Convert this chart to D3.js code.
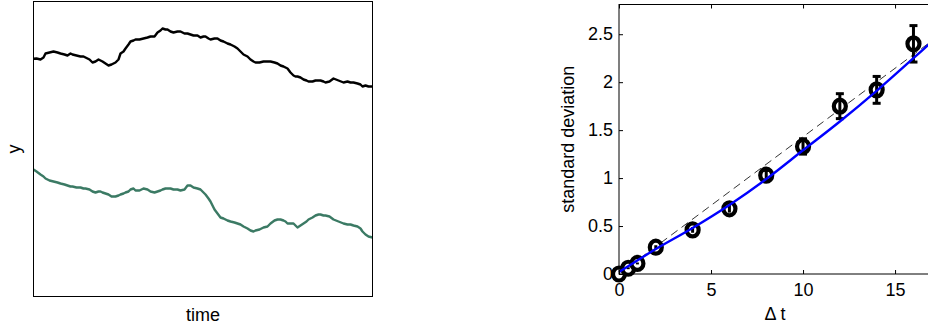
<!DOCTYPE html>
<html>
<head>
<meta charset="utf-8">
<script src="https://cdn.jsdelivr.net/npm/d3@7"></script>
<style>
  body { margin: 0; background: #fff; }
  text { font-family: "Liberation Sans", Arial, sans-serif; }
</style>
</head>
<body>
<div id="chart"></div>
<script>
// left panel: two walks sampled at the same time steps
const walkTime = [0, 3, 7, 10, 12, 16, 20, 24, 27, 31, 34, 37, 39, 43, 47, 50, 52, 56, 59, 62, 65, 67, 69, 72, 75, 78, 82, 85, 87, 90, 92, 95, 97, 100, 102, 106, 110, 114, 117, 121, 124, 127, 129, 132, 134, 137, 140, 144, 147, 151, 154, 157, 160, 164, 167, 170, 172, 175, 177, 181, 184, 187, 190, 194, 197, 201, 204, 207, 210, 214, 217, 220, 222, 226, 230, 234, 237, 241, 244, 247, 250, 252, 254, 257, 260, 262, 264, 267, 270, 273, 275, 279, 282, 285, 287, 290, 292, 296, 300, 305, 310, 314, 317, 320, 324, 327, 329, 332, 335, 339];
const walkBlack = [237.7, 238, 237, 239, 243, 244, 245, 244, 243, 242, 241, 243, 242, 241, 240, 240, 239, 237, 234, 235, 237, 236, 235, 233, 231, 232, 234, 237, 243, 245, 248, 252, 255, 256, 257, 257, 258, 259, 260, 260, 264, 266, 268, 267, 267, 265, 264, 265, 265, 263, 263, 262, 261, 261, 259, 260, 260, 258, 257, 258, 258, 256, 255, 253, 252, 250, 248, 245, 242, 240, 237, 235, 234, 234, 235, 235, 235, 234, 233, 231, 230, 229, 228, 224, 221, 220, 220, 219, 217, 216, 215, 215, 216, 216, 216, 215, 214, 215, 218, 216, 214, 215, 214, 214, 213, 212, 210, 211, 210, 210];
const walkGreen = [127, 125, 122, 120, 118, 116, 115, 114, 113, 112, 111, 110, 110, 109, 109, 108, 108, 107, 105, 104, 105, 105, 104, 103, 102, 100, 100, 101, 102, 103, 104, 105, 107, 108, 106, 106, 108, 107, 105, 104, 105, 106, 107, 108, 108, 108, 107, 107, 106, 107, 111, 111, 109, 108, 107, 104, 102, 98, 95, 87, 83, 79, 78, 76, 75, 74, 73, 72, 70, 68, 66, 65, 66, 67, 69, 70, 73, 76, 77, 77, 76, 75, 73, 73, 73, 71, 69, 71, 73, 75, 77, 79, 81, 82, 82, 81, 81, 80, 77, 75, 73, 72, 72, 71, 70, 68, 65, 62, 60, 59];

// right panel: standard deviation vs lag
const lags = [0, 0.5, 1, 2, 4, 6, 8, 10, 12, 14, 16];
const stdDev = [0, 0.06, 0.11, 0.28, 0.46, 0.68, 1.03, 1.33, 1.75, 1.92, 2.40];
const stdErr = [0, 0.01, 0.01, 0.02, 0.03, 0.04, 0.05, 0.08, 0.13, 0.14, 0.19];
const fitLag = [0, 2, 4, 6, 8, 10, 12, 14, 16, 18, 20];
const fitStd = [0.02, 0.26, 0.48, 0.72, 0.99, 1.29, 1.59, 1.91, 2.25, 2.60, 2.96];
const refLag = [0, 20];
const refStd = [0, 2.86];
const yTicks = [0, 0.5, 1, 1.5, 2, 2.5];
const xTicks = [0, 5, 10, 15];

const W = 928, H = 333;
const FS = 18;
const svg = d3.select("#chart").append("svg")
    .attr("width", W).attr("height", H);

// ---------- left panel ----------
const L = {left: 33.5, top: 1.5, right: 372.5, bottom: 296.5};
const xL = d3.scaleLinear().domain([0, 339]).range([L.left, L.right]);
const yL = d3.scaleLinear().domain([0, 295]).range([L.bottom, L.top]);

const lineL = (vals) => d3.line()
    .x((d, i) => xL(walkTime[i]))
    .y(d => yL(d))(vals);

svg.append("path").attr("d", lineL(walkBlack))
    .attr("fill", "none").attr("stroke", "#000").attr("stroke-width", 2.4)
    .attr("stroke-linejoin", "round");
svg.append("path").attr("d", lineL(walkGreen))
    .attr("fill", "none").attr("stroke", "#3b7a64").attr("stroke-width", 2.4)
    .attr("stroke-linejoin", "round");

svg.append("rect")
    .attr("x", L.left).attr("y", L.top)
    .attr("width", L.right - L.left).attr("height", L.bottom - L.top)
    .attr("fill", "none").attr("stroke", "#000").attr("stroke-width", 1);

svg.append("text").attr("x", (L.left + L.right) / 2).attr("y", 321)
    .attr("text-anchor", "middle").attr("font-size", FS).text("time");
svg.append("text")
    .attr("transform", "translate(20," + ((L.top + L.bottom) / 2) + ") rotate(-90)")
    .attr("text-anchor", "middle").attr("font-size", FS).text("y");

// ---------- right panel ----------
const R = {left: 619, top: 4.5, right: 958, bottom: 274};
const x = d3.scaleLinear().domain([0, 18.42]).range([R.left, R.right]);
const y = d3.scaleLinear().domain([0, 2.81]).range([R.bottom, R.top]);

const g = svg.append("g");

// dashed reference
g.append("path")
    .attr("d", d3.line().x((d, i) => x(refLag[i])).y((d, i) => y(refStd[i]))(refLag))
    .attr("fill", "none").attr("stroke", "#000").attr("stroke-width", 0.8)
    .attr("stroke-dasharray", "8,5");

// markers
g.selectAll("ellipse.pt").data(lags).enter().append("ellipse")
    .attr("class", "pt")
    .attr("cx", d => x(d))
    .attr("cy", (d, i) => y(stdDev[i]))
    .attr("rx", 6).attr("ry", 6.5)
    .attr("fill", "#fff").attr("stroke", "#000").attr("stroke-width", 4.2);

// error bars, drawn over the markers
lags.forEach((t, i) => {
  if (stdErr[i] <= 0) return;
  const cx = x(t);
  g.append("line").attr("x1", cx).attr("x2", cx)
      .attr("y1", y(stdDev[i] - stdErr[i])).attr("y2", y(stdDev[i] + stdErr[i]))
      .attr("stroke", "#000").attr("stroke-width", 3);
  if (stdErr[i] < 0.05) return;
  [stdDev[i] - stdErr[i], stdDev[i] + stdErr[i]].forEach(v => {
    g.append("line").attr("x1", cx - 4).attr("x2", cx + 4)
        .attr("y1", y(v)).attr("y2", y(v))
        .attr("stroke", "#000").attr("stroke-width", 3);
  });
});

// fitted curve
g.append("path")
    .attr("d", d3.line().curve(d3.curveMonotoneX)
        .x((d, i) => x(fitLag[i])).y(d => y(d))(fitStd))
    .attr("fill", "none").attr("stroke", "#0000ff").attr("stroke-width", 2.4);

// frame and ticks
svg.append("rect")
    .attr("x", R.left).attr("y", R.top)
    .attr("width", R.right - R.left).attr("height", R.bottom - R.top)
    .attr("fill", "none").attr("stroke", "#000").attr("stroke-width", 1);

const xAxis = svg.append("g")
    .attr("transform", "translate(0," + R.bottom + ")")
    .call(d3.axisBottom(x).tickValues(xTicks).tickSize(-4).tickPadding(9).tickFormat(d3.format("d")));
const xAxisTop = svg.append("g")
    .attr("transform", "translate(0," + R.top + ")")
    .call(d3.axisTop(x).tickValues(xTicks).tickSize(-4).tickFormat(""));
const yAxis = svg.append("g")
    .attr("transform", "translate(" + R.left + ",0)")
    .call(d3.axisLeft(y).tickValues(yTicks).tickSize(-4).tickPadding(6).tickFormat(d => d));

[xAxis, xAxisTop, yAxis].forEach(a => {
  a.select(".domain").remove();
  a.selectAll("line").attr("stroke", "#000");
  a.selectAll("text").attr("font-size", FS).attr("fill", "#000")
      .attr("font-family", "Liberation Sans, Arial, sans-serif");
});

svg.append("text").attr("x", 775).attr("y", 320)
    .attr("text-anchor", "middle").attr("font-size", FS).text("Δ t");
svg.append("text")
    .attr("transform", "translate(574," + ((R.top + R.bottom) / 2) + ") rotate(-90)")
    .attr("text-anchor", "middle").attr("font-size", FS).text("standard deviation");
</script>
</body>
</html>
